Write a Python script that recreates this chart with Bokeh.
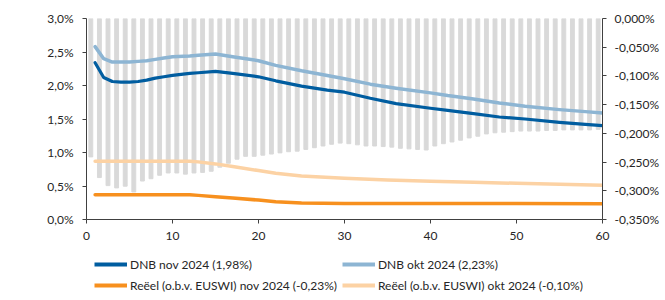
from bokeh.plotting import figure
from bokeh.layouts import column
from bokeh.models import (Range1d, LinearAxis, FixedTicker, CustomJSTickFormatter,
                          Legend, LegendItem)
from bokeh.embed import file_html
from bokeh.resources import INLINE

# ---- data ----
looptijd = list(range(1, 61))
verschil = [-0.241, -0.277, -0.291, -0.295, -0.292, -0.302, -0.283, -0.279, -0.273, -0.269,
            -0.269, -0.271, -0.269, -0.268, -0.266, -0.259, -0.252, -0.245, -0.240, -0.240,
            -0.238, -0.236, -0.234, -0.232, -0.231, -0.228, -0.225, -0.222, -0.219, -0.217,
            -0.218, -0.220, -0.222, -0.222, -0.223, -0.224, -0.226, -0.227, -0.228, -0.229,
            -0.222, -0.218, -0.215, -0.212, -0.208, -0.205, -0.201, -0.199, -0.198, -0.197,
            -0.196, -0.196, -0.196, -0.195, -0.195, -0.194, -0.194, -0.194, -0.194, -0.193]

dnb_x = [1, 2, 3, 4, 5, 6, 7, 8, 9, 10, 12, 13, 15, 17, 20, 22, 25, 28, 30, 33, 36, 40, 42, 45, 48, 51, 55, 58, 60]
dnb_nov = [2.34, 2.12, 2.06, 2.05, 2.05, 2.06, 2.08, 2.11, 2.13, 2.15, 2.18, 2.19, 2.21, 2.18, 2.13,
           2.07, 1.99, 1.93, 1.90, 1.81, 1.73, 1.66, 1.63, 1.58, 1.53, 1.50, 1.45, 1.42, 1.40]
dnb_okt = [2.58, 2.40, 2.35, 2.35, 2.35, 2.36, 2.37, 2.39, 2.41, 2.43, 2.44, 2.45, 2.47, 2.43, 2.37,
           2.30, 2.22, 2.15, 2.10, 2.02, 1.96, 1.89, 1.85, 1.80, 1.74, 1.69, 1.64, 1.61, 1.59]

reeel_okt_x = [1, 12, 13, 15, 17, 20, 22, 25, 30, 35, 40, 45, 50, 55, 60]
reeel_okt = [0.87, 0.87, 0.86, 0.83, 0.79, 0.73, 0.69, 0.65, 0.615, 0.59, 0.57, 0.555, 0.54, 0.525, 0.51]
reeel_nov_x = [1, 12, 13, 15, 17, 20, 22, 25, 30, 40, 50, 60]
reeel_nov = [0.37, 0.37, 0.36, 0.34, 0.32, 0.29, 0.265, 0.245, 0.24, 0.24, 0.237, 0.235]

left_ticks = [0.0, 0.5, 1.0, 1.5, 2.0, 2.5, 3.0]
right_ticks = [0.0, -0.05, -0.10, -0.15, -0.20, -0.25, -0.30, -0.35]
x_ticks = [0, 10, 20, 30, 40, 50, 60]

labels = ["DNB nov 2024 (1,98%)", "DNB okt 2024 (2,23%)",
          "Reëel (o.b.v. EUSWI) nov 2024 (-0,23%)", "Reëel (o.b.v. EUSWI) okt 2024 (-0,10%)"]

# ---- style ----
FONT = "Lato"
AX = "#404040"
TXT = "#262626"
C_NOV = "#005DA0"
C_OKT = "#8DB5D3"
C_RNOV = "#F7901E"
C_ROKT = "#FCD2A4"
C_BAR = "#D9D9D9"
W = 662

p = figure(width=W, height=248, output_backend="svg", toolbar_location=None,
           x_range=Range1d(0, 60), y_range=Range1d(0, 3.0),
           min_border_left=86, min_border_right=57, min_border_top=18, min_border_bottom=29)
p.outline_line_color = None
p.xgrid.visible = False
p.ygrid.visible = False
p.background_fill_color = None
p.border_fill_color = None

p.extra_y_ranges = {"diff": Range1d(-0.35, 0.0)}

bar_x = [v - 0.5 for v in looptijd]
p.vbar(x=bar_x, top=0.0, bottom=verschil, width=0.45, color=C_BAR, y_range_name="diff")

p.line(dnb_x, dnb_okt, line_color=C_OKT, line_width=3.5, line_cap="round", line_join="round")
p.line(dnb_x, dnb_nov, line_color=C_NOV, line_width=3.2, line_cap="round", line_join="round")
p.line(reeel_okt_x, reeel_okt, line_color=C_ROKT, line_width=3.5, line_cap="round", line_join="round")
p.line(reeel_nov_x, reeel_nov, line_color=C_RNOV, line_width=3.5, line_cap="round", line_join="round")

def style_axis(ax):
    ax.axis_line_color = AX
    ax.major_tick_line_color = AX
    ax.minor_tick_line_color = None
    ax.major_tick_in = 0
    ax.major_tick_out = 4
    ax.major_label_text_font = FONT
    ax.major_label_text_font_size = "12px"
    ax.major_label_text_color = TXT

style_axis(p.xaxis[0])
p.xaxis[0].ticker = FixedTicker(ticks=x_ticks)
p.xaxis[0].major_label_standoff = 8

style_axis(p.yaxis[0])
p.yaxis[0].ticker = FixedTicker(ticks=left_ticks)
p.yaxis[0].formatter = CustomJSTickFormatter(code="return tick.toFixed(1).replace('.', ',') + '%';")
p.yaxis[0].major_label_standoff = 9

ax_r = LinearAxis(y_range_name="diff")
style_axis(ax_r)
ax_r.ticker = FixedTicker(ticks=right_ticks)
ax_r.formatter = CustomJSTickFormatter(
    code="var s = Math.abs(tick) < 1e-9 ? '0.000' : tick.toFixed(3); return s.replace('.', ',') + '%';")
ax_r.major_label_standoff = 8
p.add_layout(ax_r, "right")

# ---- legend strip: same series, drawn outside its visible range, only the legend shows ----
lg = figure(width=W, height=50, output_backend="svg", toolbar_location=None,
            x_range=Range1d(0, 60), y_range=Range1d(10, 11),
            x_axis_location=None, y_axis_location=None,
            min_border_left=0, min_border_right=0, min_border_top=0, min_border_bottom=0)
lg.xgrid.visible = False
lg.ygrid.visible = False
lg.outline_line_color = None
lg.border_fill_color = None
lg.background_fill_color = None

k_nov = lg.line(dnb_x, dnb_nov, line_color=C_NOV, line_width=4)
k_okt = lg.line(dnb_x, dnb_okt, line_color=C_OKT, line_width=4)
k_rnov = lg.line(reeel_nov_x, reeel_nov, line_color=C_RNOV, line_width=4)
k_rokt = lg.line(reeel_okt_x, reeel_okt, line_color=C_ROKT, line_width=4)

# ncols=2 fills column by column
legend = Legend(items=[LegendItem(label=labels[0], renderers=[k_nov]),
                       LegendItem(label=labels[2], renderers=[k_rnov]),
                       LegendItem(label=labels[1], renderers=[k_okt]),
                       LegendItem(label=labels[3], renderers=[k_rokt])],
                ncols=2, location=(8, 5))
legend.label_text_font = FONT
legend.label_text_font_size = "12px"
legend.label_text_color = TXT
legend.glyph_width = 33
legend.glyph_height = 16
legend.label_height = 16
legend.label_standoff = 3
legend.spacing = 5
legend.padding = 2
legend.margin = 0
legend.border_line_color = None
legend.background_fill_alpha = 0
lg.add_layout(legend, "center")

layout = column(p, lg, spacing=0)
open("out.html", "w").write(file_html(layout, INLINE))
